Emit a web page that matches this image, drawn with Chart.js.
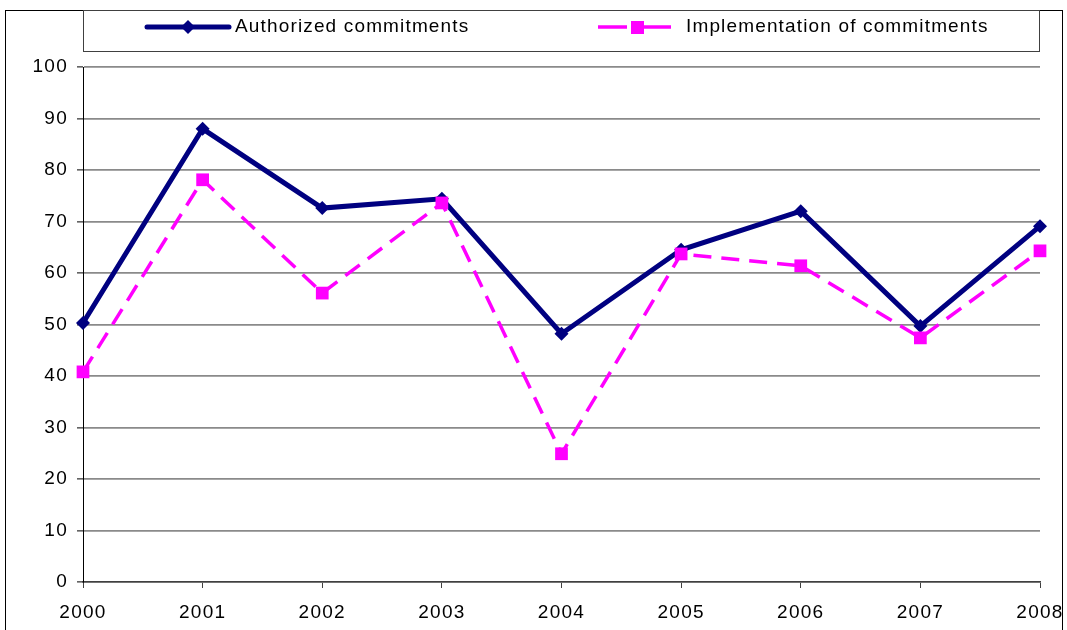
<!DOCTYPE html>
<html>
<head>
<meta charset="utf-8">
<script src="https://cdn.jsdelivr.net/npm/chart.js@4.4.0/dist/chart.umd.min.js"></script>
<style>
    html, body { margin: 0; padding: 0; background: #fff; }
    #wrap { width: 1067px; height: 630px; position: relative; }
</style>
</head>
<body>
<div id="wrap"><canvas id="commitChart" width="1067" height="630"></canvas></div>
<script>
// Chart data
const years = ['2000', '2001', '2002', '2003', '2004', '2005', '2006', '2007', '2008'];
const authorized = [50.3, 88.0, 72.6, 74.4, 48.2, 64.5, 72.0, 49.7, 69.1];
const implementation = [40.8, 78.1, 56.1, 73.6, 24.9, 63.7, 61.4, 47.4, 64.3];
const yTicks = [0, 10, 20, 30, 40, 50, 60, 70, 80, 90, 100];

const NAVY = '#000080';
const PINK = '#FF00FF';
const FONT = 'Arial, "Liberation Sans", sans-serif';

// Excel-like wide text spacing for the axis labels
const spacingPlugin = {
    id: 'letterSpacing',
    beforeLayout(chart) { chart.ctx.letterSpacing = '1.3px'; },
    beforeDraw(chart) { chart.ctx.letterSpacing = '1.3px'; }
};

// Outer frame + legend box drawn around the chart
const framePlugin = {
    id: 'frameLegend',
    afterDraw(chart) {
        const ctx = chart.ctx;
        ctx.save();
        // outer frame (bottom cut off by the picture)
        ctx.strokeStyle = '#000';
        ctx.lineWidth = 1;
        ctx.strokeRect(5.5, 10.5, 1057, 640);
        // legend box
        ctx.strokeStyle = '#404040';
        ctx.strokeRect(83.5, 10.5, 956, 41);

        const ds = chart.data.datasets;
        const cy = 27;
        ctx.font = '19px ' + FONT;
        ctx.letterSpacing = '1.15px';
        ctx.textBaseline = 'middle';
        ctx.fillStyle = '#000';

        // item 1: solid line with diamond
        ctx.strokeStyle = ds[0].borderColor;
        ctx.lineWidth = ds[0].borderWidth;
        ctx.lineCap = 'round';
        ctx.beginPath();
        ctx.moveTo(147, cy);
        ctx.lineTo(229, cy);
        ctx.stroke();
        ctx.fillStyle = ds[0].borderColor;
        ctx.beginPath();
        ctx.moveTo(188, cy - 7);
        ctx.lineTo(195, cy);
        ctx.lineTo(188, cy + 7);
        ctx.lineTo(181, cy);
        ctx.closePath();
        ctx.fill();
        ctx.fillStyle = '#000';
        ctx.fillText(ds[0].label, 235, cy);

        // item 2: dashed line with square
        ctx.strokeStyle = ds[1].borderColor;
        ctx.lineWidth = ds[1].borderWidth;
        ctx.lineCap = 'butt';
        ctx.beginPath();
        ctx.moveTo(598, cy);
        ctx.lineTo(627, cy);
        ctx.moveTo(643, cy);
        ctx.lineTo(671, cy);
        ctx.stroke();
        ctx.fillStyle = ds[1].borderColor;
        ctx.fillRect(631, cy - 6, 13, 13);
        ctx.fillStyle = '#000';
        ctx.fillText(ds[1].label, 686, cy);
        ctx.restore();
    }
};

const ctx = document.getElementById('commitChart').getContext('2d');
const commitChart = new Chart(ctx, {
    type: 'line',
    data: {
        labels: years,
        datasets: [
            {
                label: 'Authorized commitments',
                data: authorized,
                borderColor: NAVY,
                backgroundColor: NAVY,
                borderWidth: 5,
                pointStyle: 'rectRot',
                pointRadius: 7,
                pointBorderWidth: 0,
                tension: 0,
                order: 2
            },
            {
                label: 'Implementation of commitments',
                data: implementation,
                borderColor: PINK,
                backgroundColor: PINK,
                borderWidth: 3.5,
                borderDash: [18, 10],
                pointStyle: 'rect',
                pointRadius: 9,
                pointBorderWidth: 0,
                tension: 0,
                order: 1
            }
        ]
    },
    options: {
        responsive: false,
        animation: false,
        layout: { padding: { left: 0, top: 67, right: 27, bottom: 0 } },
        plugins: {
            legend: { display: false },
            tooltip: { enabled: false }
        },
        scales: {
            x: {
                offset: false,
                grid: {
                    drawOnChartArea: false,
                    drawTicks: true,
                    tickLength: 6,
                    tickColor: '#404040'
                },
                border: { color: '#404040', width: 1.5 },
                ticks: {
                    color: '#000',
                    font: { family: FONT, size: 19 },
                    padding: 13,
                    maxRotation: 0,
                    autoSkip: false
                },
                afterFit(scale) {
                    scale.height = 48;
                    scale.paddingLeft = 0;
                    scale.paddingRight = 0;
                }
            },
            y: {
                min: 0,
                max: 100,
                afterBuildTicks(scale) { scale.ticks = yTicks.map(v => ({ value: v })); },
                grid: {
                    color: '#8a8a8a',
                    lineWidth: 1.8,
                    tickLength: 6,
                    tickColor: '#000',
                    tickWidth: 1
                },
                border: { color: '#000', width: 1 },
                ticks: {
                    color: '#000',
                    font: { family: FONT, size: 19 },
                    padding: 9
                },
                afterFit(scale) { scale.width = 83; }
            }
        }
    },
    plugins: [spacingPlugin, framePlugin]
});
</script>
</body>
</html>
